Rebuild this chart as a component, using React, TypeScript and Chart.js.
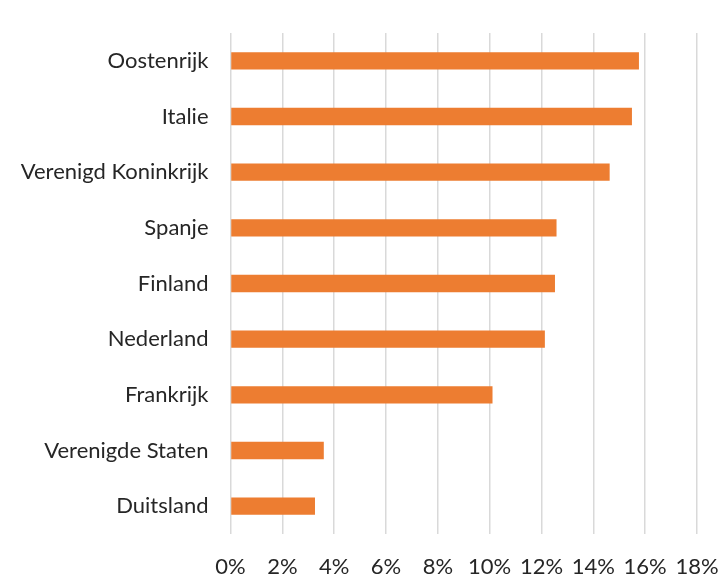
import React, { useEffect, useRef } from "react";
import { Chart, registerables } from "chart.js";

Chart.register(...registerables);

const categories = [
  "Oostenrijk",
  "Italie",
  "Verenigd Koninkrijk",
  "Spanje",
  "Finland",
  "Nederland",
  "Frankrijk",
  "Verenigde Staten",
  "Duitsland",
];
const values = [15.76, 15.49, 14.63, 12.58, 12.52, 12.13, 10.11, 3.6, 3.26];
const xMin = 0;
const xMax = 18;
const xStep = 2;

export default function App() {
  const ref = useRef<HTMLCanvasElement | null>(null);
  useEffect(() => {
    const canvas = ref.current;
    if (!canvas) return;
    const font = { family: "Lato, 'Open Sans', sans-serif", size: 22 };
    const chart = new Chart(canvas, {
      type: "bar",
      data: {
        labels: categories,
        datasets: [
          {
            data: values,
            backgroundColor: "#ED7D31",
            borderWidth: 0,
            barPercentage: 0.31,
            categoryPercentage: 1,
          },
        ],
      },
      options: {
        indexAxis: "y",
        animation: false,
        responsive: false,
        maintainAspectRatio: false,
        layout: { padding: { top: 33, right: 22, left: 0, bottom: 0 } },
        plugins: { legend: { display: false }, tooltip: { enabled: false } },
        scales: {
          x: {
            min: xMin,
            max: xMax,
            ticks: {
              stepSize: xStep,
              color: "#262626",
              font,
              padding: 20,
              callback: (v: any) => v + "%",
              maxRotation: 0,
            },
            grid: { color: "#d9d9d9", lineWidth: 1.5, drawTicks: false },
            border: { display: false },
            afterFit: (s: any) => {
              s.height = 45;
              s.paddingLeft = 0;
              s.paddingRight = 0;
            },
          },
          y: {
            ticks: { color: "#262626", font, padding: 22 },
            grid: { display: false, drawTicks: false },
            border: { display: false },
            afterFit: (s: any) => {
              s.width = 230.5;
              s.paddingTop = 0;
              s.paddingBottom = 0;
            },
          },
        },
      },
    });
    return () => chart.destroy();
  }, []);
  return (
    <div style={{ position: "absolute", left: 0, top: 0, width: 719, height: 579, background: "#fff" }}>
      <canvas ref={ref} width={719} height={579} style={{ width: 719, height: 579 }} />
    </div>
  );
}
